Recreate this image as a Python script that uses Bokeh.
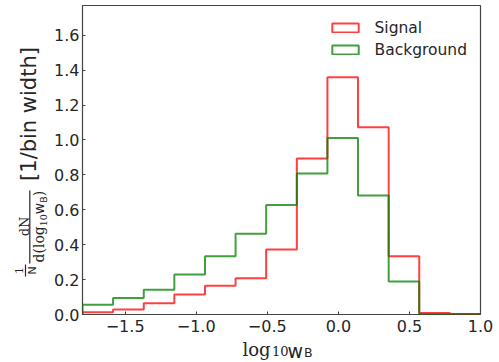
import math
from bokeh.plotting import figure
from bokeh.models import FixedTicker, Range1d, Legend, LegendItem
from bokeh.core.properties import value
from bokeh.embed import file_html
from bokeh.resources import INLINE

# ---- data ----
edges = [-1.8, -1.585, -1.369, -1.154, -0.938, -0.723, -0.508, -0.292,
         -0.077, 0.138, 0.354, 0.569, 0.785, 1.0]
signal = [0.013, 0.029, 0.065, 0.115, 0.164, 0.208, 0.373, 0.894,
          1.359, 1.072, 0.334, 0.008, 0.003]
background = [0.056, 0.094, 0.142, 0.229, 0.333, 0.463, 0.627, 0.807,
              1.011, 0.682, 0.189, 0.002, 0.003]
series_names = ["Signal", "Background"]
x_ticks = [-1.5, -1.0, -0.5, 0.0, 0.5, 1.0]
x_tick_labels = ["\u22121.5", "\u22121.0", "\u22120.5", "0.0", "0.5", "1.0"]
y_ticks = [0.0, 0.2, 0.4, 0.6, 0.8, 1.0, 1.2, 1.4, 1.6]
y_tick_labels = ["0.0", "0.2", "0.4", "0.6", "0.8", "1.0", "1.2", "1.4", "1.6"]
x_lim = (-1.8, 1.0)
y_lim = (0.0, 1.77)

# ---- layout constants ----
W, H = 499, 362
FL, FR, FT, FB = 82, 480, 5, 314   # frame edges in canvas pixels
TXT = "#262626"
RED, GREEN = "#ff0000", "#008000"


def dx(fx):
    return x_lim[0] + (fx - FL) * (x_lim[1] - x_lim[0]) / (FR - FL)


def dy(fy):
    return y_lim[0] + (FB - fy) * (y_lim[1] - y_lim[0]) / (FB - FT)


def step_path(e, vals):
    xs, ys = [e[0]], [0.0]
    for i, v in enumerate(vals):
        xs += [e[i], e[i + 1]]
        ys += [v, v]
    xs.append(e[-1])
    ys.append(0.0)
    return xs, ys


p = figure(width=W, height=H, output_backend="svg", toolbar_location=None,
           x_range=Range1d(*x_lim), y_range=Range1d(*y_lim),
           min_border_left=FL, min_border_right=W - FR,
           min_border_top=FT, min_border_bottom=H - FB)
p.background_fill_color = "white"
p.border_fill_color = "white"
p.outline_line_color = "#444444"
p.outline_line_width = 1.2
p.xgrid.visible = False
p.ygrid.visible = False

p.xaxis.ticker = FixedTicker(ticks=x_ticks)
p.xaxis.major_label_overrides = {t: l for t, l in zip(x_ticks, x_tick_labels)}
p.yaxis.ticker = FixedTicker(ticks=y_ticks)
p.yaxis.major_label_overrides = {t: l for t, l in zip(y_ticks, y_tick_labels)}
for ax in (p.xaxis[0], p.yaxis[0]):
    ax.axis_line_color = None
    ax.major_tick_in = 3
    ax.major_tick_out = 0
    ax.minor_tick_line_color = None
    ax.major_tick_line_color = "#444444"
    ax.major_label_text_font = "DejaVu Sans"
    ax.major_label_text_font_size = "16px"
    ax.major_label_text_color = TXT
p.xaxis.major_label_standoff = 5
p.yaxis.major_label_standoff = 3

# histograms (step outlines)
for vals, col in ((signal, RED), (background, GREEN)):
    xs, ys = step_path(edges, vals)
    p.line(xs, ys, line_color=col, line_alpha=0.75, line_width=2)

# legend proxies (open rectangles, no visible data)
nan = float("nan")
proxies = []
for col in (RED, GREEN):
    proxies.append(p.quad(left=[nan], right=[nan], top=[nan], bottom=[nan], fill_alpha=0,
                          line_color=col, line_alpha=0.75, line_width=2))
legend = Legend(items=[LegendItem(label=n, renderers=[r]) for n, r in zip(series_names, proxies)],
                location="top_right", border_line_alpha=0, background_fill_alpha=0,
                glyph_width=33, glyph_height=11, label_standoff=13,
                label_text_font="DejaVu Sans", label_text_font_size="15.5px",
                label_text_color=TXT, label_height=19, spacing=3,
                padding=8, margin=5)
p.add_layout(legend)


def txt(s, fx, fy, size, font="DejaVu Sans", angle=0.0, align="left", baseline="alphabetic"):
    p.text(x=[dx(fx)], y=[dy(fy)], text=[s], angle=angle,
           text_font=value(font), text_font_size=value(f"{size}px"),
           text_color=TXT, text_align=align, text_baseline=baseline, level="overlay")


def vbar(fx, fy0, fy1):
    p.segment(x0=[dx(fx)], y0=[dy(fy0)], x1=[dx(fx)], y1=[dy(fy1)],
              line_color=TXT, line_width=1.2, level="overlay")


# x-axis label: log10 w_B
txt("log", 242, 349, 18, font="DejaVu Serif")
txt("10", 271.5, 350.5, 13, font="DejaVu Serif")
txt("w", 287, 350, 19)
txt("B", 303.5, 352, 12.5)

# y-axis label: (1/N) dN/d(log10 w_B) [1/bin width]
R = math.pi / 2
txt("[1/bin width]", 28, 113.5, 21, angle=R, align="center", baseline="middle")
# 1/N
txt("1", 18.5, 270, 11, font="DejaVu Serif", angle=R, align="center", baseline="middle")
txt("N", 32, 270, 11, angle=R, align="center", baseline="middle")
vbar(25, 264, 276)
# dN / d(log10 w_B)
txt("dN", 23.5, 226, 13, font="DejaVu Serif", angle=R, align="center", baseline="middle")
vbar(29.3, 190, 263)
y0 = 262.0
txt("d(log", 38.5, y0, 14, font="DejaVu Serif", angle=R, baseline="middle")
y0 -= 36.2
txt("10", 42.5, y0, 9.5, font="DejaVu Serif", angle=R, baseline="middle")
y0 -= 12.1
txt("w", 38.5, y0, 14, angle=R, baseline="middle")
y0 -= 11.5
txt("B", 42.5, y0, 9.5, angle=R, baseline="middle")
y0 -= 6.5
txt(")", 38.5, y0, 14, font="DejaVu Serif", angle=R, baseline="middle")

open("out.html", "w").write(file_html(p, INLINE))
